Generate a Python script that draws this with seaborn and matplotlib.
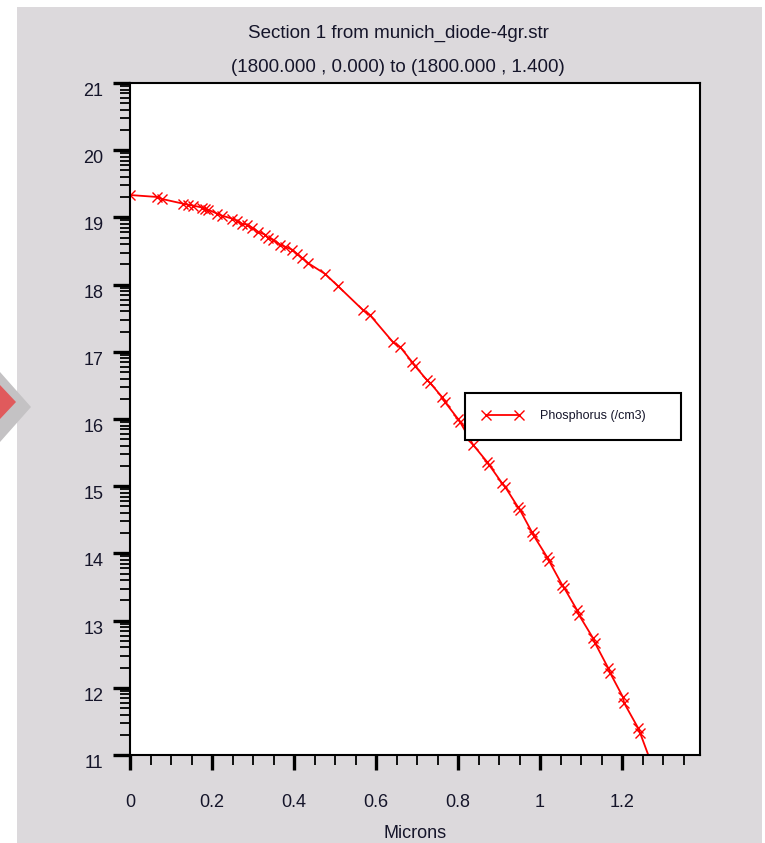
import numpy as np
import pandas as pd
import matplotlib
matplotlib.use("Agg")
import matplotlib.pyplot as plt
import seaborn as sns
from matplotlib.patches import Rectangle, Polygon

# ---------------- data ----------------
microns = [0.000, 0.066, 0.078, 0.129, 0.141, 0.154, 0.176, 0.183, 0.190,
           0.212, 0.224, 0.249, 0.261, 0.273, 0.285, 0.298, 0.312, 0.329,
           0.337, 0.349, 0.366, 0.378, 0.395, 0.407, 0.420, 0.434, 0.476,
           0.507, 0.568, 0.585, 0.641, 0.659, 0.688, 0.695, 0.724, 0.732,
           0.761, 0.768, 0.800, 0.805, 0.837, 0.871, 0.876, 0.907, 0.915,
           0.946, 0.951, 0.980, 0.985, 1.017, 1.022, 1.054, 1.059, 1.090,
           1.095, 1.129, 1.134, 1.166, 1.171, 1.202, 1.205, 1.239, 1.244,
           1.273, 1.278]
phosphorus = [19.333, 19.304, 19.274, 19.205, 19.190, 19.176, 19.146, 19.131,
              19.116, 19.057, 19.027, 18.982, 18.952, 18.908, 18.893, 18.848,
              18.789, 18.744, 18.699, 18.670, 18.595, 18.565, 18.521, 18.461,
              18.396, 18.321, 18.158, 17.979, 17.622, 17.548, 17.146, 17.071,
              16.848, 16.789, 16.580, 16.536, 16.327, 16.253, 16.000, 15.955,
              15.613, 15.360, 15.315, 15.048, 14.988, 14.690, 14.646, 14.318,
              14.259, 13.946, 13.887, 13.530, 13.485, 13.158, 13.083, 12.741,
              12.667, 12.295, 12.220, 11.863, 11.774, 11.402, 11.327,
              10.850, 10.760]
series_name = "Phosphorus (/cm3)"

x_major = [0, 0.2, 0.4, 0.6, 0.8, 1.0, 1.2]
x_labels = ["0", "0.2", "0.4", "0.6", "0.8", "1", "1.2"]
y_major = [11, 12, 13, 14, 15, 16, 17, 18, 19, 20, 21]
y_labels = ["11", "12", "13", "14", "15", "16", "17", "18", "19", "20", "21"]
title_line1 = "Section 1 from munich_diode-4gr.str"
title_line2 = "(1800.000 , 0.000) to (1800.000 , 1.400)"
x_title = "Microns"

# ---------------- style ----------------
sns.set_style("white")
plt.rcParams["font.family"] = ["Liberation Sans", "DejaVu Sans"]
TXT = "#15152a"
RED = "#ff0000"

W, H = 765, 843
fig = plt.figure(figsize=(W / 100, H / 100), dpi=100)
fig.patch.set_facecolor("white")


def fx(px):
    return px / W


def fy(py):
    return 1 - py / H


# grey page background
fig.add_artist(Rectangle((fx(17), 0), fx(762) - fx(17), fy(7),
                         transform=fig.transFigure, facecolor="#dcd9dc",
                         edgecolor="none", zorder=-3))
# decorative arrow at left edge
fig.add_artist(Polygon([(fx(0), fy(372)), (fx(31), fy(407)), (fx(0), fy(442))],
                       closed=True, transform=fig.transFigure,
                       facecolor="#c4c2c4", edgecolor="none", zorder=-2))
fig.add_artist(Polygon([(fx(0), fy(385)), (fx(16), fy(402)), (fx(0), fy(419))],
                       closed=True, transform=fig.transFigure,
                       facecolor="#e05a5c", edgecolor="none", zorder=-1))

# titles
fig.text(fx(398), fy(33), title_line1, ha="center", va="center",
         fontsize=13.5, color=TXT)
fig.text(fx(398), fy(67), title_line2, ha="center", va="center",
         fontsize=13.5, color=TXT)

ax = fig.add_axes([fx(130), fy(755), fx(700) - fx(130), fy(83) - fy(755)])
ax.set_facecolor("white")

df = pd.DataFrame({"Microns": microns, "value": phosphorus})
sns.lineplot(data=df, x="Microns", y="value", color=RED, marker="x",
             markersize=7, markeredgewidth=1.0, markeredgecolor=RED,
             markerfacecolor=RED, linewidth=1.3, sort=False,
             estimator=None, label=series_name, ax=ax, legend=False)

ax.set_xlim(0, 1.39)
ax.set_ylim(11, 21)

ax.set_xticks(x_major)
ax.set_xticklabels(x_labels, fontsize=13, color=TXT)
ax.set_xticks([k * 0.05 for k in range(0, 28)], minor=True)
ax.set_yticks(y_major)
ax.set_yticklabels(y_labels, fontsize=13, color=TXT, va="top")
ax.set_yticks([d + np.log10(k) for d in y_major[:-1] for k in range(2, 10)],
              minor=True)

ax.tick_params(axis="both", which="both", direction="out", color="black",
               top=False, right=False, bottom=True, left=True)
ax.tick_params(axis="y", which="major", length=12, width=2.4, pad=7)
ax.tick_params(axis="y", which="minor", length=7, width=1.3)
ax.tick_params(axis="x", which="major", length=11, width=2.4, pad=17)
ax.tick_params(axis="x", which="minor", length=7, width=1.3)

ax.set_xlabel(x_title, fontsize=13, color=TXT, labelpad=10)
ax.set_ylabel("")

for sp in ax.spines.values():
    sp.set_visible(True)
    sp.set_color("black")
    sp.set_linewidth(1.5)

leg = ax.legend(handles=[ax.lines[0]], labels=[series_name],
                loc="upper left",
                bbox_to_anchor=(fx(465), fy(444), fx(681) - fx(465), fy(393) - fy(444)),
                bbox_transform=fig.transFigure, mode="expand",
                borderaxespad=0, fontsize=9, frameon=True, fancybox=False,
                shadow=False, framealpha=1, edgecolor="black",
                borderpad=1.4, handlelength=3.2, handletextpad=1.4,
                numpoints=2)
leg.get_frame().set_linewidth(1.5)
for t in leg.get_texts():
    t.set_color(TXT)

fig.savefig("out.png", dpi=100, facecolor=fig.get_facecolor())
